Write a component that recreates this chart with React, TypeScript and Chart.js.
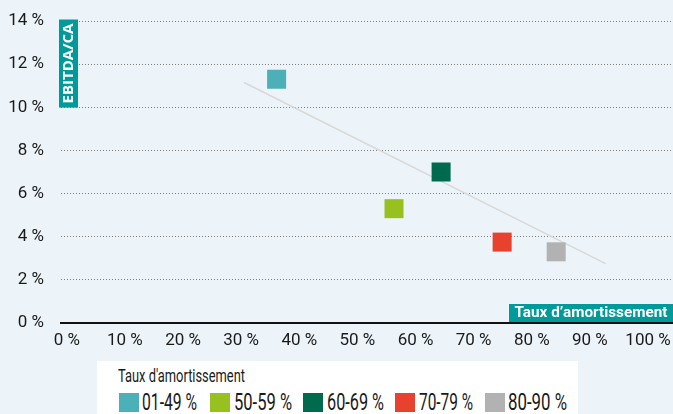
import React, { useEffect, useRef } from 'react';
import { Chart, registerables } from 'chart.js';

Chart.register(...registerables);

// ---- data ----
const groups = ['01-49 %', '50-59 %', '60-69 %', '70-79 %', '80-90 %'];
const amortRate = [36.1, 56.3, 64.4, 74.9, 84.2];
const ebitdaMargin = [11.3, 5.3, 7.0, 3.75, 3.3];
const trendX = [30.5, 92.7];
const trendY = [11.15, 2.75];
const xTicks = [0, 10, 20, 30, 40, 50, 60, 70, 80, 90, 100];
const yTicks = [0, 2, 4, 6, 8, 10, 12, 14];
const yTitle = 'EBITDA/CA';
const xTitle = "Taux d\u2019amortissement";
const legendTitle = "Taux d'amortissement";

// ---- styles ----
const groupColors = ['#4BB0B8', '#97C11F', '#006A4E', '#E8422E', '#B2B2B2'];
const BOX = '#009A9B';
const BG = '#ECF4F9';
const W = 673;
const H = 414;
const SANS = 'Roboto, "Open Sans", "DejaVu Sans", sans-serif';

function measure(text: string, font: string): number {
  const c = document.createElement('canvas').getContext('2d') as CanvasRenderingContext2D;
  c.font = font;
  return c.measureText(text).width;
}

function fitText(ctx: CanvasRenderingContext2D, text: string, cx: number, cy: number, target: number) {
  const w = ctx.measureText(text).width;
  ctx.save();
  ctx.translate(cx, cy);
  ctx.scale(target / w, 1);
  ctx.textAlign = 'center';
  ctx.textBaseline = 'middle';
  ctx.fillText(text, 0, 0);
  ctx.restore();
}

const labelsPlugin = {
  id: 'axisLabelBoxes',
  afterDraw(chart: any) {
    const { ctx, chartArea, scales } = chart;
    const y = scales.y;
    // y title box
    const top = y.getPixelForValue(14) - 1.5;
    const bottom = y.getPixelForValue(10) + 0.3;
    const left = chartArea.left - 2;
    const bw = 19;
    ctx.save();
    ctx.fillStyle = BOX;
    ctx.fillRect(left, top, bw, bottom - top);
    ctx.translate(left + bw / 2 + 0.5, (top + bottom) / 2);
    ctx.rotate(-Math.PI / 2);
    ctx.font = 'bold 15px "Open Sans", sans-serif';
    ctx.fillStyle = '#ffffff';
    fitText(ctx, yTitle, 0, 0, 80);
    ctx.restore();
    // x title box
    const bx = chartArea.right - 164;
    const bTop = chartArea.bottom - 19;
    ctx.save();
    ctx.fillStyle = BOX;
    ctx.fillRect(bx, bTop, 164, 18);
    ctx.fillStyle = '#ffffff';
    ctx.font = `bold 15px ${SANS}`;
    fitText(ctx, xTitle, bx + 82, bTop + 9.5, 153);
    ctx.restore();
  },
};

function FitSpan({ text, left, top, size, target, font }: any) {
  const f = `${size}px ${font}`;
  const s = target / measure(text, f);
  return (
    <span
      style={{
        position: 'absolute',
        left,
        top,
        font: f,
        lineHeight: 1,
        whiteSpace: 'nowrap',
        color: '#1a1a1a',
        transform: `scaleX(${s})`,
        transformOrigin: 'left top',
      }}
    >
      {text}
    </span>
  );
}

export default function App() {
  const ref = useRef<HTMLCanvasElement | null>(null);

  useEffect(() => {
    document.body.style.margin = '0';
    const canvas = ref.current;
    if (!canvas) return;
    const datasets: any[] = [
      {
        type: 'line',
        label: 'trend',
        data: trendX.map((x, i) => ({ x, y: trendY[i] })),
        borderColor: '#D8D8D8',
        borderWidth: 1.5,
        pointRadius: 0,
        showLine: true,
        order: 1,
      },
      ...groups.map((g, i) => ({
        type: 'scatter',
        label: g,
        data: [{ x: amortRate[i], y: ebitdaMargin[i] }],
        pointStyle: 'rect',
        pointRadius: 13.44,
        backgroundColor: groupColors[i],
        borderWidth: 0,
        order: 0,
      })),
    ];
    const tickFont = { family: SANS, size: 17 };
    const zeroPad = (s: any) => {
      s.paddingLeft = 0;
      s.paddingRight = 0;
      s.paddingTop = 0;
      s.paddingBottom = 0;
    };
    const chart = new Chart(canvas, {
      type: 'scatter',
      data: { datasets },
      options: {
        animation: false,
        responsive: false,
        maintainAspectRatio: false,
        layout: { autoPadding: false, padding: { top: 21, left: 0, right: 0, bottom: 0 } },
        plugins: { legend: { display: false }, tooltip: { enabled: false } },
        scales: {
          x: {
            type: 'linear',
            min: -1,
            max: 104.3,
            afterBuildTicks: (s: any) => {
              s.ticks = xTicks.map((v) => ({ value: v }));
            },
            afterFit: (s: any) => {
              s.height = 91;
              zeroPad(s);
            },
            ticks: {
              callback: (v: any) => `${v} %`,
              font: tickFont,
              color: '#1a1a1a',
              padding: 8,
              maxRotation: 0,
              autoSkip: false,
            },
            grid: { display: false, drawTicks: false },
            border: { display: true, color: '#111111', width: 2 },
          },
          y: {
            type: 'linear',
            min: 0,
            max: 14,
            afterBuildTicks: (s: any) => {
              s.ticks = yTicks.map((v) => ({ value: v }));
            },
            afterFit: (s: any) => {
              s.width = 61;
              zeroPad(s);
            },
            ticks: {
              callback: (v: any) => `${v} %`,
              font: tickFont,
              color: '#1a1a1a',
              padding: 17,
              autoSkip: false,
            },
            grid: {
              drawTicks: false,
              color: (c: any) => (c.tick && c.tick.value === 0 ? 'rgba(0,0,0,0)' : '#7E7E7E'),
              lineWidth: 1,
            },
            border: { display: false, dash: [1, 2] },
          },
        },
      },
      plugins: [labelsPlugin],
    } as any);
    return () => chart.destroy();
  }, []);

  const swatchLefts = [119, 210, 303, 395, 485];
  const textLefts = [142, 234, 327, 419, 508];
  const textWidths = [55, 58, 57, 54, 59];

  return (
    <div style={{ position: 'relative', width: W, height: H, background: BG, overflow: 'hidden' }}>
      <canvas ref={ref} width={W} height={H} style={{ position: 'absolute', left: 0, top: 0 }} />
      <div style={{ position: 'absolute', left: 97, top: 361, width: 481, height: 60, background: '#ffffff' }} />
      <FitSpan text={legendTitle} left={118} top={366} size={19} target={127} font={SANS} />
      {groups.map((g, i) => (
        <React.Fragment key={g}>
          <div
            style={{
              position: 'absolute',
              left: swatchLefts[i],
              top: 393,
              width: 20,
              height: 19,
              background: groupColors[i],
            }}
          />
          <FitSpan text={g} left={textLefts[i]} top={390.5} size={23} target={textWidths[i]} font={SANS} />
        </React.Fragment>
      ))}
    </div>
  );
}
